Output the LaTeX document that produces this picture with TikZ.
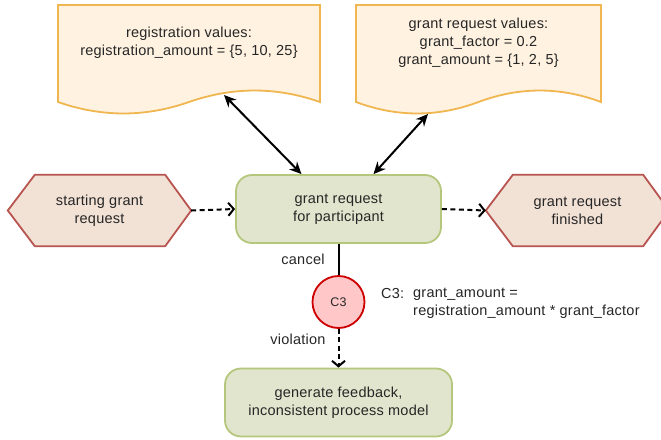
\documentclass[tikz,border=0pt]{standalone}
\usepackage{fontspec}
\setmainfont[LetterSpace=1.6]{Liberation Sans}
\usetikzlibrary{arrows.meta,calc,backgrounds}
\definecolor{docfill}{RGB}{255,242,225}
\definecolor{docline}{RGB}{240,182,80}
\definecolor{taskfill}{RGB}{225,229,205}
\definecolor{taskline}{RGB}{180,199,124}
\definecolor{evfill}{RGB}{242,225,213}
\definecolor{evline}{RGB}{184,84,80}
\definecolor{cfill}{RGB}{255,199,199}
\definecolor{cline}{RGB}{204,0,0}
\definecolor{txtcol}{RGB}{38,38,38}
\tikzset{
  docshape/.style={draw=docline, fill=docfill, line width=1.8pt},
  taskbox/.style={draw=taskline, fill=taskfill, line width=1.8pt, rounded corners=16pt,
    align=center, text=txtcol, inner sep=0},
  eventshape/.style={draw=evline, fill=evfill, line width=1.8pt},
  eventtext/.style={align=center, text=txtcol, inner sep=0, minimum width=183pt, minimum height=71pt},
  labeltext/.style={align=center, text=txtcol, inner sep=0},
  flowarrow/.style={line width=2pt, dash pattern=on 5pt off 3.5pt,
    -{Straight Barb[length=5.5pt,width=13pt]}},
  assocarrow/.style={line width=2pt,
    {Stealth[length=12pt,width=11pt]}-{Stealth[length=12pt,width=11pt]}},
}
\begin{document}
\begin{tikzpicture}[x=1pt,y=-1pt,font=\fontsize{14.5}{17.8}\selectfont]
\clip (0,0) rectangle (661,439);

% data documents
\draw[docshape] (58,5) -- (320,5) -- (320,102)
  .. controls (276.3,86.7) and (232.7,86.7) .. (189,102)
  .. controls (145.3,117.3) and (101.7,117.3) .. (58,102) -- cycle;
\node[labeltext] (reg) at (189,42.5) {registration values:\\registration\_amount = \{5, 10, 25\}};
\draw[docshape] (356,5) -- (601,5) -- (601,102)
  .. controls (560.2,86.7) and (519.3,86.7) .. (478.5,102)
  .. controls (437.7,117.3) and (396.8,117.3) .. (356,102) -- cycle;
\node[labeltext] (grv) at (478.5,42.5) {grant request values:\\grant\_factor = 0.2\\grant\_amount = \{1, 2, 5\}};
\coordinate (regdoc) at (224,95);
\coordinate (grvdoc) at (428,114);

% activities
\node[taskbox, minimum width=205pt, minimum height=68pt] (task) at (338.5,209)
  {grant request\\for participant};
\node[taskbox, minimum width=227pt, minimum height=68pt] (feedback) at (338.5,402.5)
  {generate feedback,\\inconsistent process model};

% start and end events
\node[eventtext] (start) at (99.5,210.5) {starting grant\\request};
\node[eventtext] (finish) at (577.5,210.5) {grant request\\finished};
\begin{scope}[on background layer]
\foreach \e in {start,finish}{
  \draw[eventshape] (\e.west) -- ($(\e.north west)+(27,0)$) -- ($(\e.north east)+(-26,0)$)
    -- (\e.east) -- ($(\e.south east)+(-26,0)$) -- ($(\e.south west)+(27,0)$) -- cycle;
}
\end{scope}

% constraint
\node[circle, draw=cline, fill=cfill, line width=1.8pt, minimum size=52pt, inner sep=0,
  text=txtcol, font=\fontsize{12.5}{15}\selectfont] (c3) at (338.5,302) {C3};
\node[labeltext, anchor=west] (c3tag) at (381,294) {C3:};
\node[labeltext, anchor=west] (c3a) at (413,294) {grant\_amount =};
\node[labeltext, anchor=west] (c3b) at (413,312) {registration\_amount * grant\_factor};

% connectors
\coordinate (taskreg) at ($(task.north)+(-37,0)$);
\coordinate (taskgrv) at ($(task.north)+(35,0)$);
\draw[assocarrow] (taskreg) -- (regdoc);
\draw[assocarrow] (taskgrv) -- (grvdoc);
\draw[flowarrow] (start.east) -- (task.west);
\draw[flowarrow] (task.east) -- (finish.west);
\draw[line width=2pt] (task.south) -- (c3.north);
\draw[flowarrow] (c3.south) -- (feedback.north);
\node[labeltext] (cancel) at (303,259) {cancel};
\node[labeltext] (violation) at (298,339) {violation};
\end{tikzpicture}
\end{document}
